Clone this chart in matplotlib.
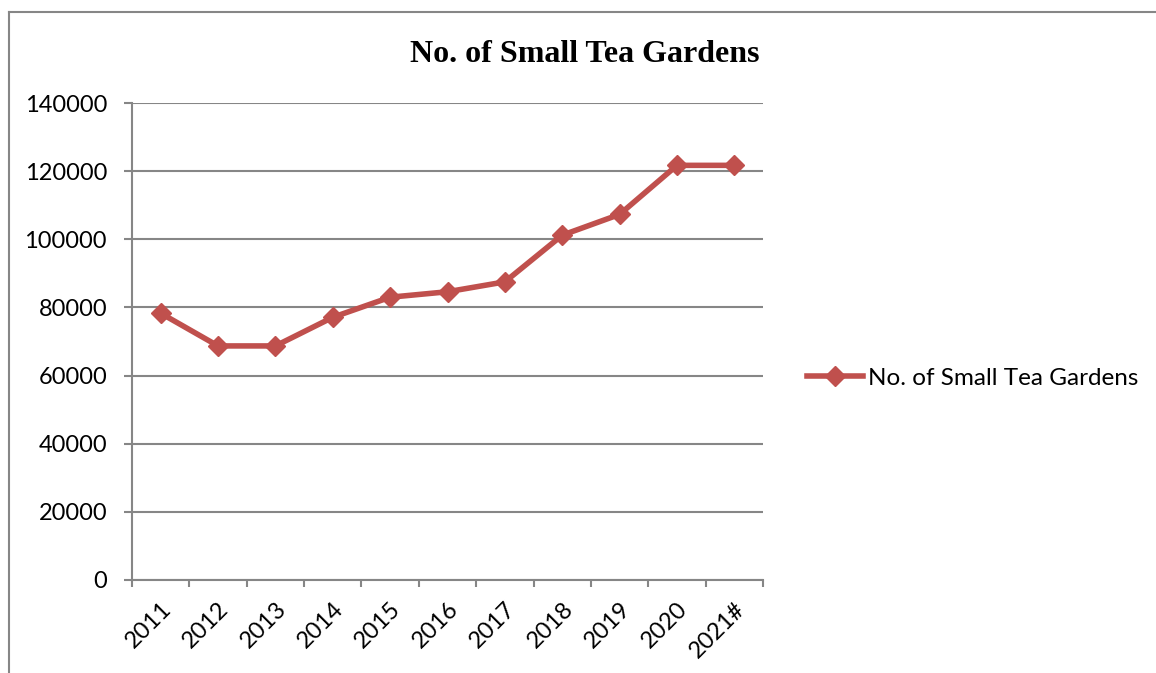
import matplotlib.pyplot as plt
from matplotlib.lines import Line2D

# Data
years = ['2011', '2012', '2013', '2014', '2015', '2016', '2017', '2018', '2019', '2020', '2021#']
gardens = [78300, 68700, 68700, 77100, 83000, 84600, 87500, 101200, 107300, 121700, 121700]
y_ticks = [0, 20000, 40000, 60000, 80000, 100000, 120000, 140000]

red = '#C0504D'
grey = '#868686'

fig = plt.figure(figsize=(11.56, 6.73), dpi=100)
ax = fig.add_axes([132 / 1156, 93 / 673, 631 / 1156, 477 / 673])

x = list(range(len(years)))
line, = ax.plot(x, gardens, color=red, lw=4, marker='D', markersize=10,
                label='No. of Small Tea Gardens', solid_joinstyle='round')

ax.set_xlim(-0.5, len(years) - 0.5)
ax.set_ylim(0, 140000)
ax.set_yticks(y_ticks)
ax.set_yticklabels([str(v) for v in y_ticks], fontsize=17, family='Lato')
ax.yaxis.grid(True, color=grey, lw=1.5)
ax.set_axisbelow(True)

# Excel-style: tick marks on category boundaries, labels at centres
ax.set_xticks([i - 0.5 for i in range(len(years) + 1)])
ax.set_xticklabels([])
ax.set_xticks(x, minor=True)
ax.set_xticklabels(years, minor=True, rotation=45, ha='right', va='top',
                   rotation_mode='anchor', fontsize=17, family='Lato')
ax.tick_params(axis='x', which='minor', length=0, pad=13)
ax.tick_params(axis='x', which='major', length=5, color=grey, width=1.5)
ax.tick_params(axis='y', length=6, color=grey, width=1.5, pad=12)

for s in ['top', 'right']:
    ax.spines[s].set_visible(False)
for s in ['left', 'bottom']:
    ax.spines[s].set_color(grey)
    ax.spines[s].set_linewidth(1.5)

fig.text(585 / 1156, 1 - 54 / 673, 'No. of Small Tea Gardens', ha='center', va='center',
         fontsize=23, fontweight='bold', family='Liberation Serif')

fig.legend(handles=[line], loc='center left', bbox_to_anchor=(785 / 1156, 1 - 378 / 673),
           frameon=False, handlelength=2.3, handletextpad=0.2,
           prop={'family': 'Lato', 'size': 17.5})

# chart border (runs off the right/bottom edge in the reference)
fig.add_artist(Line2D([9 / 1156, 9 / 1156], [0, 1 - 12 / 673], color=grey, lw=1.5))
fig.add_artist(Line2D([9 / 1156, 1], [1 - 12 / 673, 1 - 12 / 673], color=grey, lw=1.5))

fig.savefig('out.png', dpi=100)
